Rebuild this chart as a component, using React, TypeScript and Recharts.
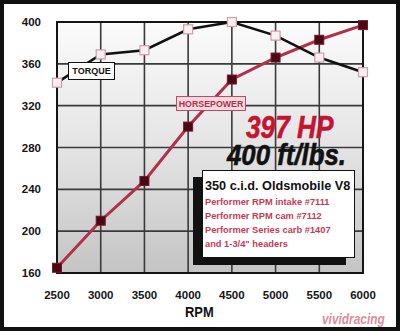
import React from 'react';
import { LineChart, Line, XAxis, YAxis, CartesianGrid, ReferenceArea } from 'recharts';

const rpm = [2500, 3000, 3500, 4000, 4500, 5000, 5500, 6000];
const torque = [342, 369, 373, 393, 400, 387, 366, 352];
const horsepower = [165, 210, 248, 300, 345, 366, 383, 397];
const yTicks = [160, 200, 240, 280, 320, 360, 400];
const xTicks = [2500, 3000, 3500, 4000, 4500, 5000, 5500, 6000];
const infoTitle = '350 c.i.d. Oldsmobile V8';
const infoLines = [
  'Performer RPM intake #7111',
  'Performer RPM cam #7112',
  'Performer Series carb #1407',
  'and 1-3/4" headers',
];

const data = rpm.map((r, i) => ({ rpm: r, torque: torque[i], hp: horsepower[i] }));

const sans = "'Liberation Sans', Arial, sans-serif";

const TorqueDot = (props: any) => {
  const { cx, cy, index } = props;
  if (cx == null || cy == null) return null;
  return <rect key={`t${index}`} x={cx - 4.5} y={cy - 4.5} width={9} height={9} fill="#fbeef1" stroke="#c9a0aa" strokeWidth={1.2} />;
};

const HpDot = (props: any) => {
  const { cx, cy, index } = props;
  if (cx == null || cy == null) return null;
  return <rect key={`h${index}`} x={cx - 4.5} y={cy - 4.5} width={9} height={9} fill="#4a0816" stroke="#7a1428" strokeWidth={1} />;
};

const squeeze = (sx: number): React.CSSProperties => ({ transform: `scaleX(${sx})`, transformOrigin: 'left top', display: 'inline-block' });

export default function App() {
  return (
    <div style={{ position: 'fixed', left: 0, top: 0, width: 400, height: 331, background: '#fff', overflow: 'hidden' }}>
      <LineChart width={400} height={331} data={data} margin={{ top: 22, right: 37, bottom: 0, left: 0 }}>
        <defs>
          <linearGradient id="plotBg" x1="0" y1="0" x2="0" y2="1">
            <stop offset="0%" stopColor="#fbfbfb" />
            <stop offset="50%" stopColor="#e4e4e4" />
            <stop offset="100%" stopColor="#c4c4c4" />
          </linearGradient>
        </defs>
        <CartesianGrid fill="url(#plotBg)" fillOpacity={1} stroke="#3a3a3a" strokeWidth={1.6} />
        <XAxis
          dataKey="rpm"
          type="number"
          domain={[2500, 6000]}
          ticks={xTicks}
          height={58}
          axisLine={false}
          tickLine={false}
          tickMargin={12}
          tick={{ fill: '#151515', fontSize: 11.5, fontWeight: 700, fontFamily: sans }}
        />
        <YAxis
          type="number"
          domain={[160, 400]}
          ticks={yTicks}
          width={57}
          axisLine={false}
          tickLine={false}
          tickMargin={10}
          tick={{ fill: '#151515', fontSize: 11.5, fontWeight: 700, fontFamily: sans }}
        />
        <ReferenceArea x1={2500} x2={6000} y1={160} y2={400} fill="none" stroke="#151515" strokeWidth={2} ifOverflow="visible" />
        <Line
          dataKey="hp"
          stroke="#b3304c"
          strokeWidth={3}
          dot={HpDot}
          activeDot={false}
          isAnimationActive={false}
        />
        <Line
          dataKey="torque"
          stroke="#111"
          strokeWidth={2.6}
          dot={TorqueDot}
          activeDot={false}
          isAnimationActive={false}
        />
      </LineChart>

      <div style={{ position: 'absolute', left: 68, top: 62, width: 47, height: 18, boxSizing: 'border-box', background: '#fff', border: '1.5px solid #111', font: `700 9px ${sans}`, color: '#111', display: 'flex', alignItems: 'center', justifyContent: 'center' }}>
        TORQUE
      </div>
      <div style={{ position: 'absolute', left: 176, top: 96, width: 70, height: 15, boxSizing: 'border-box', background: '#f6d9df', border: '1.5px solid #c04a62', font: `700 8.8px ${sans}`, color: '#b3304c', display: 'flex', alignItems: 'center', justifyContent: 'center' }}>
        HORSEPOWER
      </div>

      <div style={{ position: 'absolute', left: 246, top: 114, height: 26, font: `italic 700 32px ${sans}`, color: '#c4142f', lineHeight: '26px', whiteSpace: 'nowrap', WebkitTextStroke: '0.6px #c4142f' }}>
        <span style={squeeze(0.82)}>397 HP</span>
      </div>
      <div style={{ position: 'absolute', left: 227, top: 143, height: 24, font: `italic 700 30px ${sans}`, color: '#111', lineHeight: '24px', whiteSpace: 'nowrap', WebkitTextStroke: '0.6px #111' }}>
        <span style={squeeze(0.86)}>400 ft/lbs.</span>
      </div>

      <div style={{ position: 'absolute', left: 202, top: 170, width: 153, height: 88, boxSizing: 'border-box', background: '#fff', border: '1.5px solid #111', boxShadow: '-9px 7px 0 #111', padding: '8px 0 0 2px' }}>
        <div style={{ font: `700 12.7px ${sans}`, color: '#111', whiteSpace: 'nowrap', lineHeight: '15px' }}>{infoTitle}</div>
        <div style={{ marginTop: 1 }}>
          {infoLines.map((t) => (
            <div key={t} style={{ font: `700 9.3px ${sans}`, color: '#c83a55', whiteSpace: 'nowrap', lineHeight: '14px' }}>{t}</div>
          ))}
        </div>
      </div>

      <div style={{ position: 'absolute', left: 185, top: 303, font: `700 15px ${sans}`, color: '#111', lineHeight: '17px' }}>
        <span style={squeeze(0.86)}>RPM</span>
      </div>

      <div style={{ position: 'absolute', left: 322, top: 311, font: `italic 700 14px ${sans}`, color: '#d9788a', opacity: 0.85, whiteSpace: 'nowrap' }}>
        <span style={squeeze(0.85)}>vividracing</span>
      </div>

      <div style={{ position: 'absolute', left: 0, top: 0, width: 400, height: 331, boxSizing: 'border-box', border: '4px solid #111', pointerEvents: 'none' }} />
    </div>
  );
}
